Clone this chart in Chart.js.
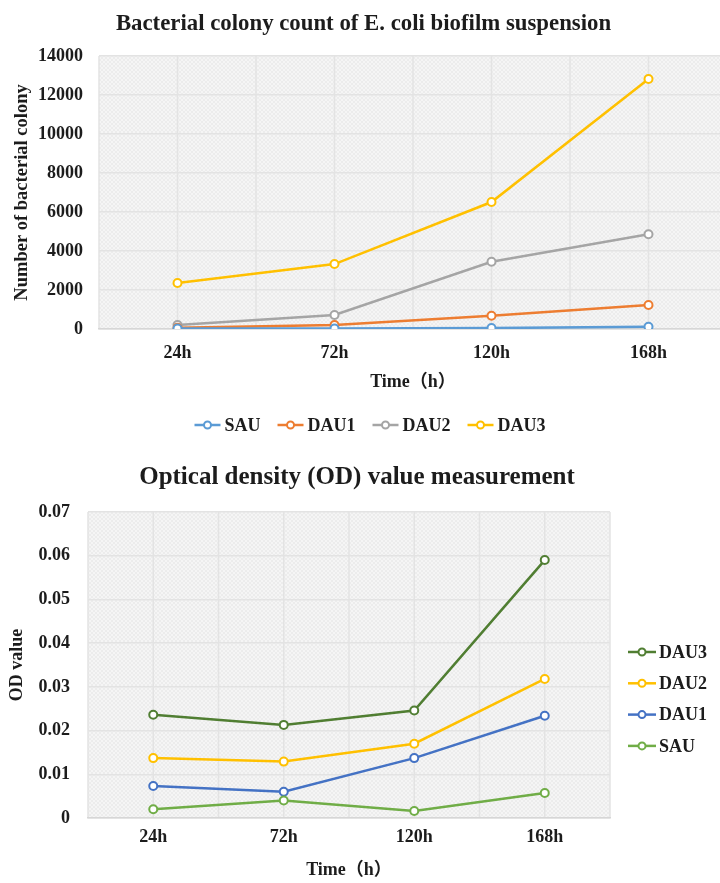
<!DOCTYPE html>
<html>
<head>
<meta charset="utf-8">
<script src="https://cdn.jsdelivr.net/npm/chart.js@4.4.1/dist/chart.umd.min.js"></script>
<style>
  html, body { margin: 0; padding: 0; background: #fff; width: 720px; height: 883px; overflow: hidden; }
  #colonyBox { position: absolute; left: 0; top: 0; width: 740px; height: 445px; }
  #odBox { position: absolute; left: 0; top: 445px; width: 720px; height: 438px; }
</style>
</head>
<body>
<div id="colonyBox"><canvas id="colonyChart"></canvas></div>
<div id="odBox"><canvas id="odChart"></canvas></div>
<script>
// Sampling times
const timeLabels = ['24h', '72h', '120h', '168h'];

// Colony counts of the E. coli biofilm suspension
const colonySAU  = [20, 30, 50, 110];
const colonyDAU1 = [60, 200, 680, 1230];
const colonyDAU2 = [200, 720, 3450, 4860];
const colonyDAU3 = [2360, 3330, 6510, 12820];

// Optical density readings
const odSAU  = [0.0020, 0.0040, 0.0016, 0.0057];
const odDAU1 = [0.0073, 0.0060, 0.0137, 0.0234];
const odDAU2 = [0.0137, 0.0129, 0.0170, 0.0318];
const odDAU3 = [0.0236, 0.0213, 0.0246, 0.0590];

const SERIF = "'Liberation Serif', 'Times New Roman', 'Noto Sans CJK SC', serif";
const INK = '#1c1c1c';
const GRID = '#e3e3e3';

Chart.defaults.font.family = SERIF;
Chart.defaults.color = INK;

// Fine cross-hatched fill for the plot area
function hatchPattern(ctx) {
  const c = document.createElement('canvas');
  c.width = 4; c.height = 4;
  const p = c.getContext('2d');
  p.fillStyle = '#f5f5f5';
  p.fillRect(0, 0, 4, 4);
  p.fillStyle = '#ececec';
  for (let i = 0; i < 4; i++) { p.fillRect(i, 3 - i, 1, 1); p.fillRect(i, i, 1, 1); }
  return ctx.createPattern(c, 'repeat');
}

// Plot backdrop: hatch plus vertical rules at every category and band edge
const plotBackdrop = {
  id: 'plotBackdrop',
  beforeDraw(chart) {
    const { ctx, chartArea: a, scales } = chart;
    const x = scales.x;
    ctx.save();
    ctx.fillStyle = hatchPattern(ctx);
    ctx.fillRect(a.left, a.top, a.right - a.left, a.bottom - a.top);
    ctx.strokeStyle = GRID;
    ctx.lineWidth = 1.5;
    const n = chart.data.labels.length;
    const half = (x.getPixelForValue(1) - x.getPixelForValue(0)) / 2;
    const xs = [];
    for (let i = 0; i < n; i++) {
      const c = x.getPixelForValue(i);
      xs.push(c - half, c);
    }
    xs.push(x.getPixelForValue(n - 1) + half);
    xs.forEach(px => {
      ctx.beginPath();
      ctx.moveTo(px, a.top);
      ctx.lineTo(px, a.bottom);
      ctx.stroke();
    });
    ctx.restore();
  }
};

// Heading drawn at a chosen centre (used where the legend sits beside the plot)
const centredHeading = {
  id: 'centredHeading',
  afterDraw(chart, args, o) {
    if (!o.text) return;
    const ctx = chart.ctx;
    ctx.save();
    ctx.font = o.font;
    ctx.fillStyle = INK;
    ctx.textAlign = 'center';
    ctx.textBaseline = 'middle';
    ctx.fillText(o.text, o.cx, o.cy);
    ctx.restore();
  }
};

// Legend with a line-and-circle swatch for each series
const lineLegend = {
  id: 'lineLegend',
  afterDraw(chart, args, o) {
    const ctx = chart.ctx;
    const items = o.order.map(i => chart.data.datasets[i]);
    ctx.save();
    ctx.font = o.font;
    ctx.textBaseline = 'middle';
    ctx.textAlign = 'left';
    const drawItem = (x, y, d) => {
      ctx.strokeStyle = d.borderColor;
      ctx.lineWidth = 2.5;
      ctx.beginPath();
      ctx.moveTo(x, y);
      ctx.lineTo(x + o.swatch, y);
      ctx.stroke();
      ctx.beginPath();
      ctx.arc(x + o.swatch / 2, y, 3.5, 0, Math.PI * 2);
      ctx.fillStyle = '#fff';
      ctx.fill();
      ctx.lineWidth = 2;
      ctx.stroke();
      ctx.fillStyle = INK;
      ctx.fillText(d.label, x + o.swatch + o.textGap, y + 1);
    };
    if (o.layout === 'row') {
      const widths = items.map(d => o.swatch + o.textGap + ctx.measureText(d.label).width);
      const total = widths.reduce((s, w) => s + w, 0) + o.itemGap * (items.length - 1);
      let x = o.cx - total / 2;
      items.forEach((d, k) => { drawItem(x, o.y, d); x += widths[k] + o.itemGap; });
    } else {
      items.forEach((d, k) => drawItem(o.x, o.y + k * o.rowGap, d));
    }
    ctx.restore();
  }
};

function series(label, data, color) {
  return {
    label, data,
    borderColor: color,
    backgroundColor: color,
    borderWidth: 2.5,
    tension: 0,
    pointRadius: 4,
    pointBorderWidth: 2,
    pointBackgroundColor: '#fff',
    pointBorderColor: color
  };
}

const bold = size => ({ family: SERIF, size, weight: 'bold', lineHeight: 1.2 });

new Chart(document.getElementById('colonyChart'), {
  type: 'line',
  data: {
    labels: timeLabels,
    datasets: [
      series('SAU', colonySAU, '#5B9BD5'),
      series('DAU1', colonyDAU1, '#ED7D31'),
      series('DAU2', colonyDAU2, '#A5A5A5'),
      series('DAU3', colonyDAU3, '#FFC000')
    ]
  },
  plugins: [plotBackdrop, lineLegend],
  options: {
    responsive: true,
    maintainAspectRatio: false,
    animation: false,
    devicePixelRatio: 1,
    layout: { padding: { left: 0, right: 13, top: 0, bottom: 50 } },
    plugins: {
      legend: { display: false },
      tooltip: { enabled: false },
      title: {
        display: true,
        text: 'Bacterial colony count of E. coli biofilm suspension',
        font: bold(22.8),
        color: INK,
        padding: { top: 10, bottom: 18.6 }
      },
      lineLegend: {
        layout: 'row', order: [0, 1, 2, 3], cx: 370, y: 425,
        swatch: 26, textGap: 4, itemGap: 17, font: 'bold 18px ' + SERIF
      }
    },
    scales: {
      x: {
        offset: true,
        grid: { display: false, drawTicks: false },
        border: { display: true, color: '#d6d6d6', width: 1.5 },
        ticks: { font: bold(18), color: INK, padding: 14 },
        title: { display: true, text: 'Time（h）', font: bold(18), color: INK, padding: { top: 0, bottom: 2 } },
        afterFit(scale) { scale.height = 66; }
      },
      y: {
        min: 0, max: 14000,
        grid: { color: GRID, lineWidth: 1.5, drawTicks: false },
        border: { display: false },
        ticks: { stepSize: 2000, font: bold(18), color: INK, padding: 16, callback: v => String(v) },
        title: { display: true, text: 'Number of bacterial colony', font: bold(18.5), color: INK, padding: { top: 11, bottom: 0 } },
        afterFit(scale) { scale.width = 99; }
      }
    }
  }
});

new Chart(document.getElementById('odChart'), {
  type: 'line',
  data: {
    labels: timeLabels,
    datasets: [
      series('SAU', odSAU, '#70AD47'),
      series('DAU1', odDAU1, '#4472C4'),
      series('DAU2', odDAU2, '#FFC000'),
      series('DAU3', odDAU3, '#507E32')
    ]
  },
  plugins: [plotBackdrop, lineLegend, centredHeading],
  options: {
    responsive: true,
    maintainAspectRatio: false,
    animation: false,
    devicePixelRatio: 1,
    layout: { padding: { left: 0, right: 110, top: 67, bottom: 2 } },
    plugins: {
      legend: { display: false },
      tooltip: { enabled: false },
      title: { display: false },
      centredHeading: {
        text: 'Optical density (OD) value measurement',
        font: 'bold 25px ' + SERIF, cx: 357, cy: 33
      },
      lineLegend: {
        layout: 'column', order: [3, 2, 1, 0], x: 628, y: 207, rowGap: 31.3,
        swatch: 28, textGap: 3, font: 'bold 18px ' + SERIF
      }
    },
    scales: {
      x: {
        offset: true,
        grid: { display: false, drawTicks: false },
        border: { display: true, color: '#d6d6d6', width: 1.5 },
        ticks: { font: bold(18), color: INK, padding: 9 },
        title: { display: true, text: 'Time（h）', font: bold(18), color: INK, padding: { top: 0, bottom: 0 } },
        afterFit(scale) { scale.height = 63; }
      },
      y: {
        min: 0, max: 0.07,
        grid: { color: GRID, lineWidth: 1.5, drawTicks: false },
        border: { display: false },
        ticks: { stepSize: 0.01, font: bold(18), color: INK, padding: 18 },
        title: { display: true, text: 'OD value', font: bold(18), color: INK, padding: { top: 7, bottom: 0 } },
        afterFit(scale) { scale.width = 88; }
      }
    }
  }
});
</script>
</body>
</html>
